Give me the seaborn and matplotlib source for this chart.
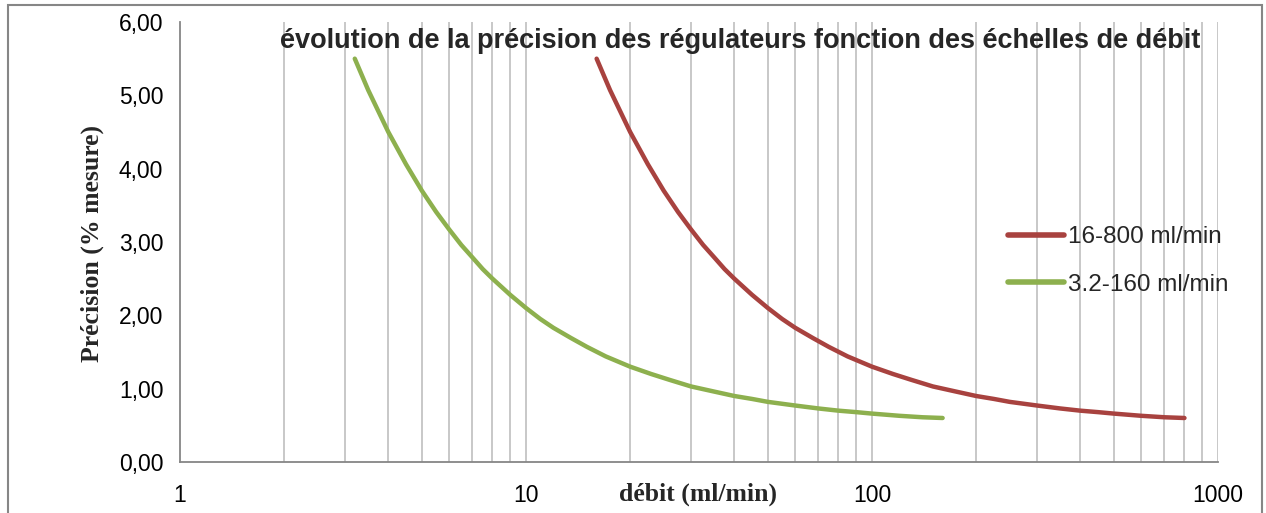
import numpy as np
import pandas as pd
import matplotlib
matplotlib.use("Agg")
import matplotlib.pyplot as plt
import seaborn as sns
from matplotlib.ticker import FixedLocator, FuncFormatter
from matplotlib.patches import Rectangle

# Data
green_x = [3.2, 3.5, 4, 4.5, 5, 5.5, 6, 6.5, 7, 7.5, 8, 9, 10, 11, 12, 13.5, 15, 17, 20,
           23, 26, 30, 35, 40, 45, 50, 60, 70, 80, 90, 100, 120, 140, 160]
green_y = [5.5, 5.07, 4.5, 4.06, 3.7, 3.41, 3.17, 2.96, 2.79, 2.63, 2.5, 2.28, 2.1, 1.95,
           1.83, 1.69, 1.57, 1.44, 1.3, 1.2, 1.12, 1.03, 0.96, 0.9, 0.86, 0.82, 0.77, 0.73,
           0.7, 0.68, 0.66, 0.63, 0.61, 0.6]
red_x = [16, 17.5, 20, 22.5, 25, 27.5, 30, 32.5, 35, 37.5, 40, 45, 50, 55, 60, 67.5, 75, 85,
         100, 115, 130, 150, 175, 200, 225, 250, 300, 350, 400, 450, 500, 600, 700, 800]
red_y = [5.5, 5.07, 4.5, 4.06, 3.7, 3.41, 3.17, 2.96, 2.79, 2.63, 2.5, 2.28, 2.1, 1.95,
         1.83, 1.69, 1.57, 1.44, 1.3, 1.2, 1.12, 1.03, 0.96, 0.9, 0.86, 0.82, 0.77, 0.73,
         0.7, 0.68, 0.66, 0.63, 0.61, 0.6]
series_names = ["16-800 ml/min", "3.2-160 ml/min"]
colors = ["#A8423F", "#8DB04E"]
title = "évolution de la précision des régulateurs fonction des échelles de débit"
xlabel = "débit (ml/min)"
ylabel = "Précision (% mesure)"

df = pd.concat([
    pd.DataFrame({"x": red_x, "y": red_y, "serie": series_names[0]}),
    pd.DataFrame({"x": green_x, "y": green_y, "serie": series_names[1]}),
])

sns.set_theme(style="white")
plt.rcParams['font.family'] = ['Liberation Sans', 'DejaVu Sans']

fig = plt.figure(figsize=(12.66, 5.13), dpi=100)
ax = fig.add_axes([180/1266, 1-462/513, (1218-180)/1266, (462-22)/513])

sns.lineplot(data=df, x="x", y="y", hue="serie", palette=colors,
             hue_order=series_names, linewidth=3.2, ax=ax, sort=False,
             estimator=None)
for ln in ax.get_lines():
    ln.set_solid_joinstyle("round")
    ln.set_solid_capstyle("round")

ax.set_xscale("log")
ax.set_xlim(1, 1000)
ax.set_ylim(0, 6)

axis_col = "#868686"
grid_col = "#BFBFBF"
grid_pos = [m * 10**e for e in range(0, 3) for m in range(1, 10)] + [1000]
for g in grid_pos[1:]:
    ax.axvline(g, color=grid_col, lw=1.2, zorder=0)

ax.xaxis.set_major_locator(FixedLocator([1, 10, 100, 1000]))
ax.xaxis.set_minor_locator(FixedLocator([]))
ax.xaxis.set_major_formatter(FuncFormatter(lambda v, p: f"{int(round(v))}"))
ax.yaxis.set_major_locator(FixedLocator([0, 1, 2, 3, 4, 5, 6]))
ax.yaxis.set_major_formatter(FuncFormatter(lambda v, p: f"{v:.2f}".replace(".", ",")))

for s in ["top", "right"]:
    ax.spines[s].set_visible(False)
for s in ["left", "bottom"]:
    ax.spines[s].set_color(axis_col)
    ax.spines[s].set_linewidth(1.3)

ax.tick_params(axis="both", which="major", direction="out", color=axis_col,
               length=7, width=1.3, labelsize=16.5, colors=axis_col, labelcolor="black")
ax.tick_params(axis="x", pad=9)
ax.tick_params(axis="y", pad=5)

ax.set_xlabel("")
ax.set_ylabel("")
fig.text(698/1266, 1-494/513, xlabel, ha="center", va="center",
         fontsize=18.5, fontweight="bold", family="Liberation Serif")
fig.text(92/1266, 1-244/513, ylabel, ha="center", va="center", rotation=90,
         fontsize=18.5, fontweight="bold", family="Liberation Serif")
fig.text(740/1266, 1-41/513, title, ha="center", va="center",
         fontsize=19.5, fontweight="bold", family=["Liberation Sans Narrow", "Liberation Sans"])

leg = ax.legend(loc="center left", bbox_to_anchor=(1008/1266, 1-261/513),
                bbox_transform=fig.transFigure, frameon=False, fontsize=17.5,
                handlelength=2.3, labelspacing=1.05, handletextpad=0.15,
                borderpad=0, borderaxespad=0)
for line in leg.get_lines():
    line.set_linewidth(4)
    line.set_solid_capstyle("round")

fig.patches.append(Rectangle((8/1266, -0.05), (1262-8)/1266, 1-5/513 + 0.05,
                             transform=fig.transFigure, fill=False,
                             edgecolor="#868686", lw=1.5))

fig.savefig("out.png", dpi=100)
